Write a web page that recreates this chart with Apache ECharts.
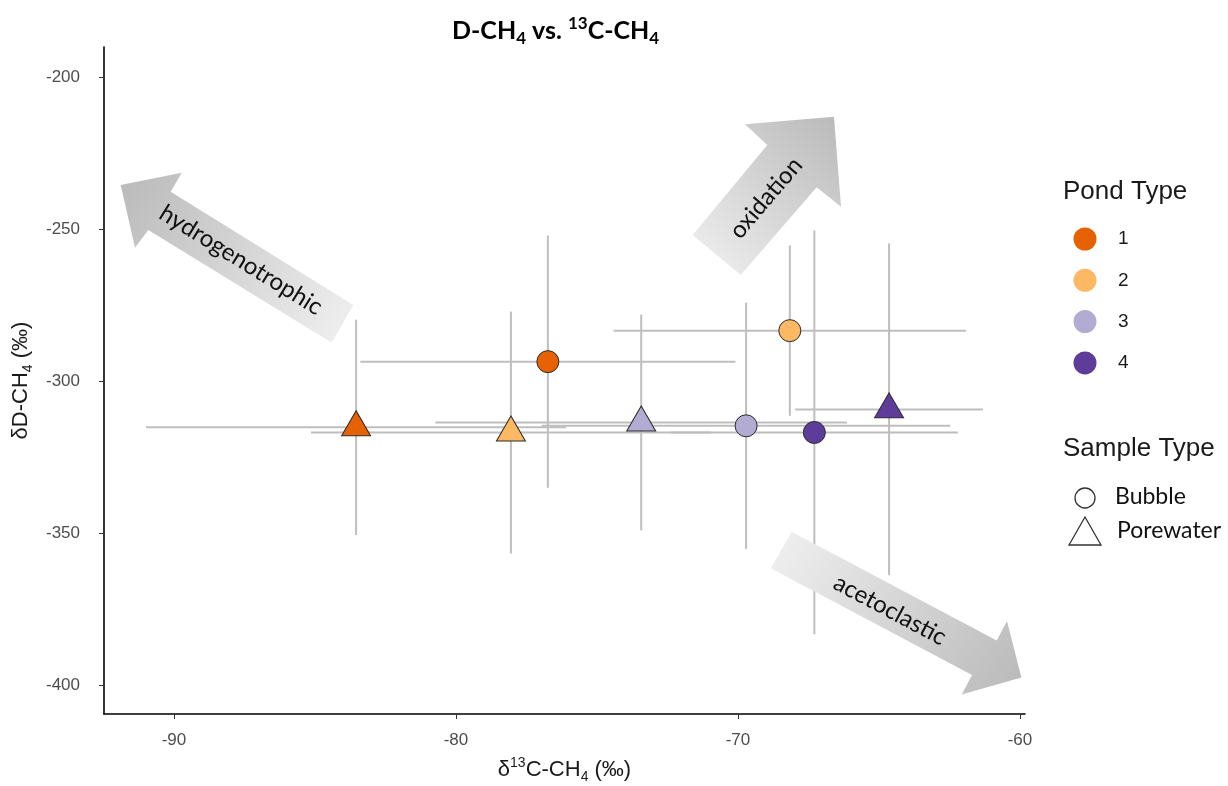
<!DOCTYPE html>
<html>
<head>
  <meta charset="utf-8">
  <title>D-CH4 vs. 13C-CH4</title>
  <script src="https://cdn.jsdelivr.net/npm/echarts@6/dist/echarts.min.js"></script>
  <style>
    html, body { margin: 0; background: #fff; }
    #chart { width: 1228px; height: 786px; }
  </style>
</head>
<body>
<div id="chart"></div>
<script>
  // values (per mil)
  const pondTypes = ['1', '2', '3', '4'];
  const sampleTypes = ['Bubble', 'Porewater'];

  const bubbleX    = [-76.74, -68.16, -69.71, -67.29];
  const bubbleY    = [-293.6, -283.4, -314.7, -316.9];
  const bubbleXErr = [6.65, 6.25, 7.24, 5.09];
  const bubbleYErr = [41.5, 28.0, 40.5, 66.4];

  const poreX    = [-83.54, -78.05, -73.43, -64.64];
  const poreY    = [-315.2, -316.9, -313.6, -309.3];
  const poreXErr = [7.45, 7.09, 7.30, 3.33];
  const poreYErr = [35.4, 39.8, 35.5, 54.6];

  const xTicks = [-90, -80, -70, -60];
  const yTicks = [-400, -350, -300, -250, -200];

  const pondColors = ['#e66101', '#fdb863', '#b2abd2', '#5e3c99'];

  let myChart = echarts.init(document.getElementById('chart'));

  const errData = bubbleX.map((x, i) => [x, bubbleY[i], bubbleXErr[i], bubbleYErr[i]])
    .concat(poreX.map((x, i) => [x, poreY[i], poreXErr[i], poreYErr[i]]));

  function errorBars(params, api) {
    const x = api.value(0), y = api.value(1), ex = api.value(2), ey = api.value(3);
    const l = api.coord([x - ex, y]), r = api.coord([x + ex, y]);
    const t = api.coord([x, y + ey]), b = api.coord([x, y - ey]);
    const st = { stroke: '#bebebe', lineWidth: 2 };
    return {
      type: 'group',
      children: [
        { type: 'line', shape: { x1: l[0], y1: l[1], x2: r[0], y2: r[1] }, style: st },
        { type: 'line', shape: { x1: t[0], y1: t[1], x2: b[0], y2: b[1] }, style: st }
      ]
    };
  }

  const subRich = {
    a: { fontSize: 22, lineHeight: 28, fontFamily: 'Liberation Sans', color: '#1a1a1a' },
    sup: { fontSize: 14, lineHeight: 14, verticalAlign: 'top', fontFamily: 'Liberation Sans', color: '#1a1a1a' },
    sub: { fontSize: 14, lineHeight: 14, verticalAlign: 'bottom', fontFamily: 'Liberation Sans', color: '#1a1a1a' }
  };

  // gray block arrows with their labels (drawn above the error bars)
  function arrow(points, grad, label, cx, cy, deg) {
    return [
      {
        type: 'polygon',
        shape: { points: points },
        style: {
          fill: new echarts.graphic.LinearGradient(grad[0], grad[1], grad[2], grad[3], [
            { offset: 0, color: '#b9b9b9' },
            { offset: 1, color: '#f1f1f1' }
          ])
        },
        z: 10
      },
      {
        type: 'text',
        x: cx, y: cy,
        rotation: deg * Math.PI / 180,
        style: {
          text: label, fill: '#111', font: '24px Lato',
          align: 'center', verticalAlign: 'middle'
        },
        z: 11
      }
    ];
  }

  const legendGraphics = [
    { type: 'text', left: 1063, top: 179, style: { text: 'Pond Type', fill: '#1a1a1a', font: '26px "Liberation Sans"' } }
  ];
  pondTypes.forEach((p, i) => {
    const cy = 239 + i * 41.3;
    legendGraphics.push({ type: 'circle', shape: { cx: 1085, cy: cy, r: 11.5 }, style: { fill: pondColors[i] } });
    legendGraphics.push({ type: 'text', x: 1118, y: cy, style: { text: p, fill: '#1a1a1a', font: '19px "Liberation Sans"', verticalAlign: 'middle' } });
  });
  legendGraphics.push(
    { type: 'text', left: 1063, top: 436, style: { text: 'Sample Type', fill: '#1a1a1a', font: '26px "Liberation Sans"' } },
    { type: 'circle', shape: { cx: 1085, cy: 498, r: 10 }, style: { fill: 'none', stroke: '#333', lineWidth: 1.3 } },
    { type: 'polygon', shape: { points: [[1085, 517], [1101, 545], [1069, 545]] }, style: { fill: 'none', stroke: '#333', lineWidth: 1.3 } },
    { type: 'text', x: 1115, y: 497, style: { text: sampleTypes[0], fill: '#111', font: '23px Lato', verticalAlign: 'middle' } },
    { type: 'text', x: 1117, y: 531, style: { text: sampleTypes[1], fill: '#111', font: '23px Lato', verticalAlign: 'middle' } }
  );

  const arrows = [].concat(
    arrow([[120.7, 185], [181.7, 172.7], [170.7, 191.7], [353.3, 305], [331.7, 342.7], [148.3, 230], [135, 247.7]],
      [0, 0, 1, 1], 'hydrogenotrophic', 241, 260, -31.8),
    arrow([[834, 116.7], [841, 206.7], [816.7, 187.3], [740.7, 275], [692.7, 235], [767.3, 145], [745, 124.3]],
      [1, 0, 0, 1], 'oxidation', 766, 198, 49.5),
    arrow([[1021.4, 677.5], [961.7, 694.4], [972, 675], [770.7, 568.3], [791.7, 531.7], [996.7, 640.6], [1007, 621]],
      [1, 1, 0, 0], 'acetoclastic', 890, 610, -28)
  );

  myChart.setOption({
    animation: false,
    backgroundColor: '#fff',
    title: {
      text: '{b|D-CH}{bs|4}{b| vs. }{bp|13}{b|C-CH}{bs|4}',
      left: 447, top: 10,
      textStyle: {
        rich: {
          b: { fontSize: 25, lineHeight: 32, fontWeight: 'bold', fontFamily: 'Lato', color: '#000' },
          bs: { fontSize: 17, lineHeight: 17, verticalAlign: 'bottom', fontWeight: 'bold', fontFamily: 'Lato', color: '#000' },
          bp: { fontSize: 17, lineHeight: 17, verticalAlign: 'top', fontWeight: 'bold', fontFamily: 'Lato', color: '#000' }
        }
      }
    },
    grid: { left: 104, right: 203, top: 47, bottom: 72, outerBoundsMode: 'none' },
    xAxis: {
      type: 'value',
      min: -92.48, max: -59.82,
      name: '{a|δ}{sup|13}{a|C-CH}{sub|4}{a| (‰)}',
      nameLocation: 'middle', nameGap: 42,
      nameTextStyle: { rich: subRich },
      axisLine: { show: true, lineStyle: { color: '#000', width: 1.6 } },
      axisTick: { show: true, length: 5, customValues: xTicks, lineStyle: { color: '#333' } },
      axisLabel: { customValues: xTicks, margin: 18, color: '#4d4d4d', fontSize: 17, fontFamily: 'Liberation Sans' },
      splitLine: { show: false }
    },
    yAxis: {
      type: 'value',
      min: -409.5, max: -190.1,
      name: '{a|δD-CH}{sub|4}{a| (‰)}',
      nameLocation: 'middle', nameGap: 68, nameRotate: 90,
      nameTextStyle: { rich: subRich },
      axisLine: { show: true, lineStyle: { color: '#000', width: 1.6 } },
      axisTick: { show: true, length: 5, customValues: yTicks, lineStyle: { color: '#333' } },
      axisLabel: { customValues: yTicks, margin: 24, color: '#4d4d4d', fontSize: 17, fontFamily: 'Liberation Sans' },
      splitLine: { show: false }
    },
    graphic: arrows.concat(legendGraphics),
    series: [
      {
        type: 'custom',
        renderItem: errorBars,
        data: errData,
        z: 1,
        silent: true
      },
      {
        name: sampleTypes[0],
        type: 'scatter',
        symbol: 'circle',
        symbolSize: 22,
        z: 3,
        itemStyle: { borderColor: '#2b2b2b', borderWidth: 1, opacity: 1 },
        data: bubbleX.map((x, i) => ({ value: [x, bubbleY[i]], itemStyle: { color: pondColors[i] } }))
      },
      {
        name: sampleTypes[1],
        type: 'scatter',
        symbol: 'triangle',
        symbolSize: [29, 25],
        symbolOffset: [0, -4],
        z: 3,
        itemStyle: { borderColor: '#2b2b2b', borderWidth: 1, opacity: 1 },
        data: poreX.map((x, i) => ({ value: [x, poreY[i]], itemStyle: { color: pondColors[i] } }))
      }
    ]
  });
</script>
</body>
</html>
